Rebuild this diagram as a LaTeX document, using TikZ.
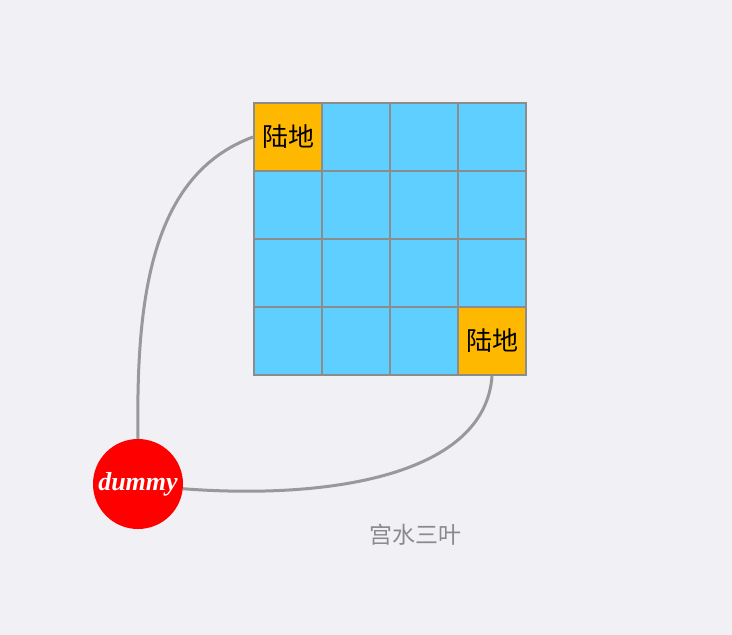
\documentclass[tikz,border=0pt]{standalone}
\usepackage{fontspec}
\setmainfont{Liberation Serif}
\newfontfamily\cjk{Noto Sans CJK SC}
\definecolor{bg}{HTML}{F0F0F5}
\definecolor{sea}{HTML}{5FCFFF}
\definecolor{land}{HTML}{FFB800}
\definecolor{rim}{HTML}{8C8C8C}
\definecolor{wire}{HTML}{999999}
\definecolor{sign}{HTML}{8A8A8A}
\begin{document}
\begin{tikzpicture}[x=1pt,y=-1pt,
    cell/.style ={rectangle, draw=rim, line width=2pt, fill=sea,
      minimum width=68pt, minimum height=68pt, inner sep=0pt},
    island/.style ={cell, fill=land, font=\cjk\fontsize{26}{26}\selectfont},
    dummynode/.style ={circle, fill=red, text=white, minimum size=90pt, inner sep=0pt,
      font=\bfseries\itshape\fontsize{26}{26}\selectfont},
    link/.style ={draw=wire, line width=3pt}]
   \fill[bg] (0,0) rectangle (732,635);
   \useasboundingbox (0,0) rectangle (732,635);

   % grid of cells
   \foreach \i in {0,...,3}
     \foreach \j in {0,...,3}
       \node[cell] (c\i\j) at (288+68*\j,137+68*\i) {};
   \node[island] (c00) at (288,137) {陆地};
   \node[island] (c33) at (492,341) {陆地};

   \node[dummynode] (dummy) at (138,484) {dummy};

   \draw[link] (c00.west) .. controls (150,175) and (136,300) .. (dummy.north);
   \draw[link] (c33.south) .. controls (485,475) and (330,500) .. (dummy.-6);

   \node[text=sign, font=\cjk\fontsize{23}{23}\selectfont] (author) at (415,535) {宫水三叶};
 \end{tikzpicture}
\end{document}
